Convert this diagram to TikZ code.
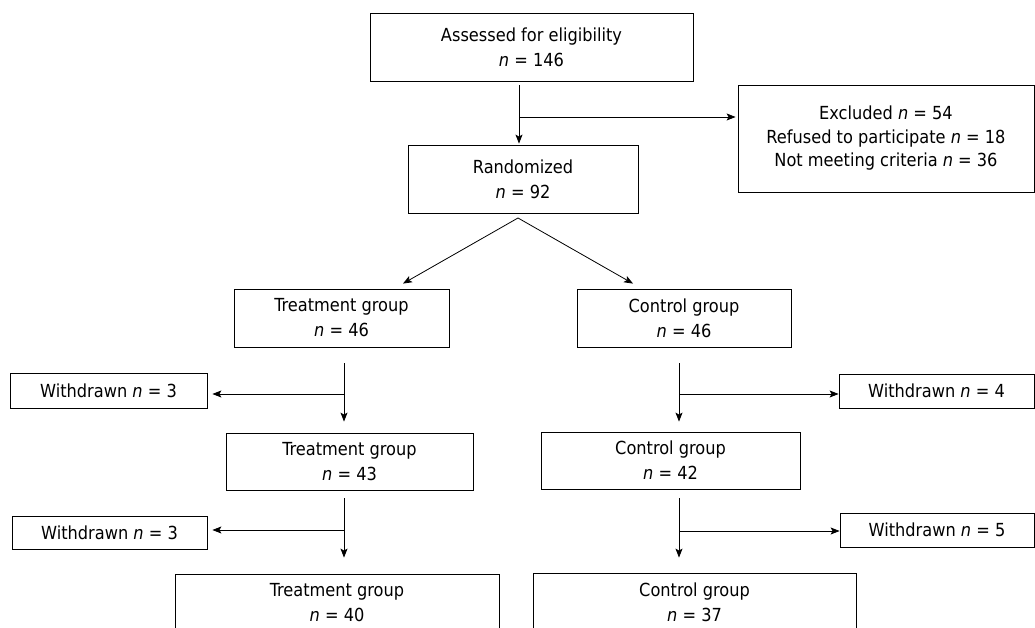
\documentclass[tikz,border=0pt]{standalone}
\usepackage{fontspec}
\setmainfont{DejaVu Sans Condensed}
\usetikzlibrary{arrows.meta, positioning, calc}
\tikzset{
    % Box styles - plain sharp corners
    stage/.style={
        rectangle,
        draw=black,
        line width=0.8pt,
        inner sep=0pt,
        align=center,
        font=\fontsize{18}{25}\selectfont
    },
    dropout/.style={
        stage,
        font=\fontsize{18}{23.5}\selectfont
    },
    % Connector styles
    arrow/.style={
        -{Stealth[length=9pt, width=7pt, inset=2pt]},
        line width=0.8pt,
        draw=black
    },
    stem/.style={
        line width=0.8pt,
        draw=black
    }
}
\begin{document}
\begin{tikzpicture}[x=1pt, y=1pt]
    \clip (0,0) rectangle (1035,628);

    % Enrolment
    \node[stage, minimum width=323pt, minimum height=68pt] (assess) at (531.5,581) {Assessed for eligibility\\\textit{n} = 146};
    \node[dropout, minimum width=296pt, minimum height=107pt] (excl) at (886,489.5) {Excluded \textit{n} = 54\\Refused to participate \textit{n} = 18\\Not meeting criteria \textit{n} = 36};
    \node[stage, minimum width=230pt, minimum height=68pt] (rand) at (523,449) {Randomized\\\textit{n} = 92};

    \coordinate (split) at (519,511);
    \draw[stem] ([yshift=-4pt]assess.south -| split) -- (split);
    \draw[arrow] (split) -- ([yshift=1pt]rand.north -| split);
    \draw[arrow] (split) -- ([xshift=-2pt]excl.west |- split);

    % Allocation
    \node[stage, minimum width=215pt, minimum height=58pt] (treat1) at (341.5,310) {Treatment group\\\textit{n} = 46};
    \node[stage, minimum width=214pt, minimum height=58pt] (ctrl1) at (684,310) {Control group\\\textit{n} = 46};

    \coordinate (fork) at (518,410);
    \draw[arrow] (fork) -- ([shift={(61.5,5)}]treat1.north);
    \draw[arrow] (fork) -- ([shift={(-51,5)}]ctrl1.north);

    % Follow-up, treatment side
    \node[stage, minimum width=197pt, minimum height=35pt] (wdT1) at (108.5,237.5) {Withdrawn \textit{n} = 3};
    \node[stage, minimum width=247pt, minimum height=57pt] (treat2) at (349.5,166.5) {Treatment group\\\textit{n} = 43};
    \node[stage, minimum width=195pt, minimum height=33pt] (wdT2) at (109.5,95.5) {Withdrawn \textit{n} = 3};
    \node[stage, minimum width=324pt, minimum height=58pt] (treat3) at (337,25) {Treatment group\\\textit{n} = 40};

    \coordinate (tsplit1) at (344,234);
    \draw[stem] ([yshift=-16pt]treat1.south -| tsplit1) -- (tsplit1);
    \draw[arrow] (tsplit1) -- ([yshift=11pt]treat2.north -| tsplit1);
    \draw[arrow] (tsplit1) -- ([xshift=5pt]wdT1.east |- tsplit1);

    \coordinate (tsplit2) at (344,98);
    \draw[stem] ([yshift=-8pt]treat2.south -| tsplit2) -- (tsplit2);
    \draw[arrow] (tsplit2) -- ([yshift=16pt]treat3.north -| tsplit2);
    \draw[arrow] (tsplit2) -- ([xshift=5pt]wdT2.east |- tsplit2);

    % Follow-up, control side
    \node[stage, minimum width=195pt, minimum height=34pt] (wdC1) at (936.5,237) {Withdrawn \textit{n} = 4};
    \node[stage, minimum width=259pt, minimum height=57pt] (ctrl2) at (670.5,167.5) {Control group\\\textit{n} = 42};
    \node[stage, minimum width=194pt, minimum height=34pt] (wdC2) at (937,98) {Withdrawn \textit{n} = 5};
    \node[stage, minimum width=323pt, minimum height=58pt] (ctrl3) at (694.5,26) {Control group\\\textit{n} = 37};

    \coordinate (csplit1) at (679,234);
    \draw[stem] ([yshift=-16pt]ctrl1.south -| csplit1) -- (csplit1);
    \draw[arrow] (csplit1) -- ([yshift=10pt]ctrl2.north -| csplit1);
    \draw[arrow] (csplit1) -- (wdC1.west |- csplit1);

    \coordinate (csplit2) at (679,97);
    \draw[stem] ([yshift=-9pt]ctrl2.south -| csplit2) -- (csplit2);
    \draw[arrow] (csplit2) -- ([yshift=15pt]ctrl3.north -| csplit2);
    \draw[arrow] (csplit2) -- (wdC2.west |- csplit2);
\end{tikzpicture}
\end{document}
